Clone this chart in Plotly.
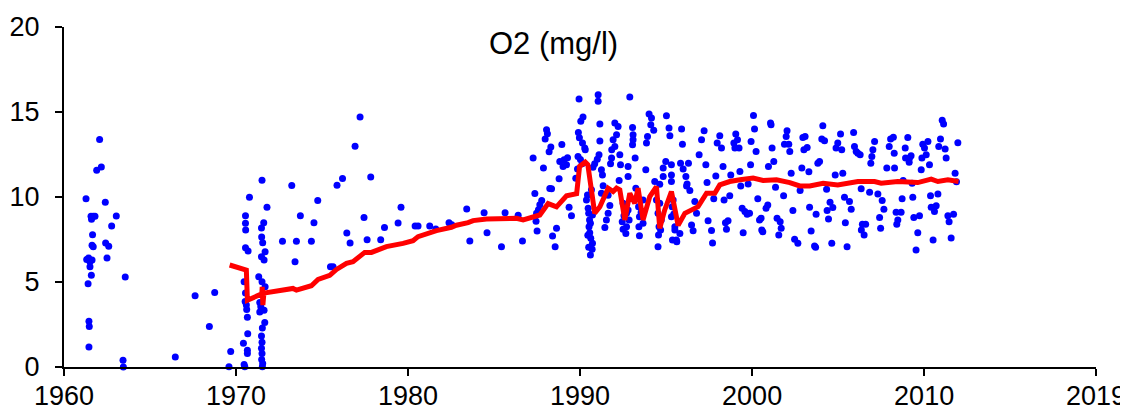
import plotly.graph_objects as go

# ---------------- data (decimal year, O2 mg/l) ----------------
yr_1960s = [1961.28, 1962.40, 1962.07, 1961.90, 1962.17, 1961.57, 1961.70, 1961.80, 1961.60, 1963.04,
            1962.77, 1961.66, 1961.63, 1961.70, 1962.42, 1962.60, 1961.32, 1961.43, 1961.63, 1961.51,
            1962.50, 1961.51, 1961.59, 1961.40, 1963.56, 1961.45, 1961.47, 1961.45, 1963.43, 1963.45,
            1966.47, 1967.62, 1968.76, 1968.45, 1969.69, 1969.59]
o2_1960s = [9.89, 9.69, 13.38, 11.58, 11.77, 8.87, 8.87, 8.87, 8.69, 8.88,
            8.30, 7.78, 7.16, 7.08, 7.29, 7.10, 6.33, 6.41, 6.29, 6.19,
            6.41, 5.90, 5.39, 4.89, 5.29, 2.69, 2.38, 1.18, 0.40, 0.00,
            0.59, 4.19, 4.38, 2.38, 0.91, 0.02]

yr_1970s = [1970.55, 1970.55, 1970.56, 1970.55, 1970.70, 1970.47, 1970.55, 1970.53, 1970.60, 1970.62,
            1970.66, 1970.68, 1970.43, 1970.66, 1970.66, 1970.47, 1970.51, 1970.78,
            1971.51, 1971.80, 1971.61, 1971.48, 1971.49, 1971.55, 1971.69, 1971.48, 1971.63, 1971.32,
            1971.51, 1971.69, 1971.38, 1971.44, 1971.38, 1971.63, 1971.67, 1971.53, 1971.48, 1971.51,
            1971.48, 1971.51, 1971.49, 1971.55, 1971.53,
            1973.24, 1973.74, 1972.70, 1973.51, 1974.38, 1973.43, 1977.21, 1976.92, 1976.19, 1975.87,
            1977.83, 1974.75, 1974.53, 1977.44, 1979.59, 1979.42, 1978.63, 1976.44, 1976.63, 1977.62,
            1978.41, 1975.49, 1975.64]
o2_1970s = [8.89, 8.45, 8.06, 7.02, 6.82, 5.01, 4.36, 3.86, 3.64, 3.38,
            2.93, 1.95, 1.40, 0.98, 0.79, 0.14, 0.02, 9.99,
            10.99, 9.40, 8.49, 8.18, 7.65, 7.31, 6.78, 6.49, 6.29, 5.31,
            5.01, 4.72, 3.80, 3.54, 3.23, 3.34, 2.62, 2.30, 1.83, 1.46,
            1.10, 0.79, 0.44, 0.20, 0.02,
            10.67, 8.89, 7.39, 7.39, 7.39, 6.19, 14.70, 12.99, 11.09, 10.69,
            11.18, 9.79, 8.49, 8.79, 9.40, 8.47, 8.20, 7.88, 7.29, 7.49,
            7.49, 5.90, 5.90]

yr_1980s = [1980.41, 1980.58, 1981.26, 1981.61, 1982.38, 1982.54, 1983.41, 1984.42, 1985.64, 1986.40,
            1984.59, 1983.59, 1985.43, 1986.65,
            1987.27, 1987.87, 1987.37, 1987.77, 1987.66, 1987.58, 1987.44, 1987.50, 1987.47, 1988.24,
            1988.20, 1988.05, 1988.10, 1987.97, 1988.30, 1988.94, 1988.82, 1989.07, 1989.27, 1989.01,
            1989.21, 1988.78, 1988.34, 1989.36, 1989.50, 1988.63, 1988.40, 1988.55, 1989.75]
o2_1980s = [8.30, 8.30, 8.30, 8.12, 8.49, 8.37, 9.30, 9.08, 9.08, 8.92,
            7.90, 7.41, 7.08, 7.41,
            12.29, 11.70, 10.20, 9.79, 9.55, 9.25, 8.57, 8.00, 9.04, 10.50,
            12.66, 13.96, 13.72, 13.41, 12.94, 13.09, 12.09, 12.19, 12.31, 11.79,
            11.89, 11.07, 10.48, 9.40, 8.90, 8.16, 7.71, 7.08, 11.11]

yr_1990_94 = [1989.94, 1990.17, 1990.04, 1989.90, 1989.96, 1990.14, 1990.27, 1990.30, 1989.88, 1990.02,
              1990.12, 1989.85,
              1990.66, 1990.43, 1990.37, 1990.47, 1990.72, 1990.60, 1990.52, 1990.56, 1990.62, 1990.72,
              1990.70, 1990.60, 1990.50, 1990.55, 1990.45, 1990.50,
              1991.05, 1991.05, 1991.15, 1991.15, 1991.10, 1991.00, 1990.85, 1990.75, 1991.24, 1991.30,
              1991.34, 1991.24, 1991.63, 1991.73, 1991.63, 1991.53, 1991.44,
              1992.02, 1992.21, 1992.12, 1991.92, 1992.02, 1991.84, 1991.83, 1991.77, 1992.31, 1992.35,
              1992.27, 1992.79, 1992.79, 1992.89,
              1992.50, 1992.55, 1992.45, 1992.70, 1992.50, 1992.66, 1992.79, 1992.85, 1992.70,
              1993.05, 1993.08, 1993.08, 1993.05, 1993.20, 1993.24,
              1993.40, 1993.45, 1993.42, 1993.45, 1993.66, 1993.66, 1993.55,
              1994.01, 1994.15, 1994.11, 1994.28, 1993.92, 1993.86, 1993.82, 1994.34,
              1994.44, 1994.53, 1994.59, 1994.56, 1994.53, 1994.63, 1994.72, 1994.68]
o2_1990_94 = [15.77, 14.70, 14.45, 13.80, 13.48, 13.17, 12.88, 12.78, 12.38, 12.20,
              11.95, 11.65,
              10.42, 10.12, 9.83, 9.34, 8.94, 8.45, 8.25, 7.90, 7.57, 7.28,
              6.92, 6.59, 9.04, 8.65, 7.75, 7.05,
              16.02, 15.63, 14.29, 13.29, 12.48, 12.22, 11.95, 11.75, 11.60, 11.30,
              10.66, 10.22, 10.10, 9.50, 9.04, 8.65, 8.20,
              14.35, 14.15, 13.66, 13.37, 12.97, 12.78, 12.29, 11.95, 12.48, 11.89,
              10.97, 11.79, 11.20, 15.88,
              9.63, 8.90, 8.55, 8.25, 8.10, 7.86, 9.24, 8.65, 9.04,
              14.09, 13.66, 13.37, 13.07, 12.29, 10.52,
              9.43, 8.84, 8.25, 7.72, 9.83, 8.45, 9.10,
              14.88, 14.65, 14.25, 13.92, 13.56, 13.17, 11.60, 10.91,
              9.83, 9.04, 8.25, 7.77, 7.08, 9.63, 8.65, 8.06]

yr_1995_99 = [1995.02, 1995.17, 1995.22, 1994.83, 1994.98, 1995.31, 1994.83, 1994.63, 1995.31, 1995.31,
              1995.90, 1995.95, 1995.84, 1996.30, 1995.99, 1996.15, 1996.22, 1996.38, 1996.19,
              1995.41, 1995.31, 1995.51, 1995.37, 1995.60, 1995.80, 1995.35, 1995.51, 1995.62, 1995.45,
              1996.92, 1997.06, 1997.21, 1997.31,
              1998.12, 1997.97, 1998.22, 1999.05, 1998.94, 1999.15, 1999.24, 1999.00, 1998.31, 1999.29,
              1998.76, 1997.38, 1997.89,
              1996.67, 1996.77, 1996.48, 1996.57, 1997.44, 1997.64, 1997.70, 1997.77, 1998.37, 1998.70,
              1999.42, 1999.58, 1999.71, 1998.45, 1998.60, 1998.51, 1999.48, 1999.34, 1999.77]
o2_1995_99 = [14.78, 14.06, 13.60, 11.70, 12.09, 11.89, 11.20, 10.75, 11.30, 10.91,
              14.00, 13.11, 11.99, 11.99, 11.64, 11.20, 10.77, 10.38, 10.65,
              9.83, 8.84, 8.06, 7.47, 7.47, 7.86, 9.43, 8.25, 7.37, 9.00,
              12.48, 13.37, 13.90, 11.89,
              13.60, 13.17, 12.88, 13.70, 13.17, 13.37, 12.88, 12.88, 11.79, 11.50,
              11.30, 10.85, 11.24,
              9.73, 9.04, 8.35, 8.02, 8.60, 8.03, 7.30, 9.89, 9.83, 10.08,
              9.34, 9.14, 8.99, 8.49, 8.61, 8.10, 7.90, 10.65, 10.77]

yr_2000s = [2000.08, 2000.14, 1999.94, 2000.23, 1999.91, 2001.07, 2001.10, 2001.16, 2001.26, 2000.95,
            2002.03, 2001.98, 2001.88, 2002.13, 2002.19, 2002.27, 2002.95, 2003.08, 2003.20, 2003.01,
            2002.89, 2003.30, 2004.11, 2004.05, 2004.21, 2003.82, 2003.92, 2004.83, 2005.27, 2005.14,
            2004.98, 2004.88, 2005.21, 2005.90, 2005.95, 2006.05, 2006.15, 2006.28, 2007.12, 2007.02,
            2006.96, 2006.90, 2008.05, 2008.21, 2007.97, 2008.26, 2007.83, 2008.28, 2009.05, 2008.90,
            2008.92, 2009.15, 2009.24, 2009.13, 2009.92, 2010.02, 2010.22, 2010.12, 2009.87, 2009.83,
            2010.31, 2011.05, 2011.13, 2010.95, 2010.85, 2011.22, 2011.28, 2011.96, 2011.80, 2011.88,
            2008.78, 2009.30]
o2_2000s = [14.80, 14.00, 13.27, 12.68, 11.89, 14.35, 14.25, 12.88, 12.09, 11.79,
            13.90, 13.56, 13.11, 13.11, 12.68, 11.40, 13.50, 13.56, 12.91, 12.78,
            11.70, 11.48, 14.19, 13.41, 13.31, 11.99, 12.09, 11.30, 11.40, 13.70,
            13.17, 12.88, 12.78, 13.80, 12.97, 12.68, 12.58, 12.48, 13.27, 12.78,
            12.38, 11.99, 13.41, 13.52, 12.97, 12.58, 11.70, 11.70, 13.50, 12.88,
            12.29, 12.29, 12.42, 12.05, 13.11, 12.88, 13.27, 12.48, 12.29, 11.60,
            11.89, 14.51, 14.29, 13.41, 12.97, 12.82, 12.29, 13.19, 11.40, 10.89,
            10.97, 10.81]

yr_2000s_low = [2000.33, 1999.85, 2000.52, 2000.43, 2000.81, 2000.91, 2000.56, 2000.62,
                2001.36, 2001.45, 2001.63, 2001.69, 2001.55, 2001.83,
                2002.37, 2002.47, 2002.66, 2002.79, 2003.34, 2003.43, 2003.72, 2003.63, 2003.69,
                2004.33, 2004.53, 2004.69, 2004.36, 2004.44, 2004.63,
                2005.37, 2005.66, 2005.76, 2005.42, 2005.52,
                2006.34, 2006.83, 2007.31, 2007.56, 2007.66, 2007.41, 2007.47,
                2006.41, 2006.60, 2006.35, 2006.51,
                2008.72, 2008.37, 2008.66, 2008.47, 2008.41,
                2009.34, 2009.40, 2009.73, 2009.63, 2009.53,
                2010.37, 2010.80, 2010.41, 2010.70, 2010.60, 2010.52,
                2011.38, 2011.71, 2011.45, 2011.57]
o2_2000s_low = [9.89, 9.04, 8.75, 8.65, 9.34, 9.53, 8.06, 7.96,
                10.58, 8.75, 8.55, 8.16, 7.77, 10.08,
                9.20, 7.51, 7.28, 10.38, 9.40, 8.00, 8.99, 7.12, 7.04,
                10.46, 9.69, 9.38, 9.20, 8.71, 7.28,
                9.99, 9.73, 9.28, 8.49, 7.08,
                10.48, 10.28, 10.18, 9.79, 9.28, 8.79, 8.16,
                8.40, 8.40, 8.06, 7.77,
                9.89, 9.10, 9.10, 8.65, 8.40,
                9.99, 8.79, 8.89, 7.90, 6.88,
                10.08, 10.18, 9.40, 9.49, 9.14, 7.47,
                8.89, 8.99, 8.55, 7.59]

# red trend line
trend_year = [1969.63, 1970.50, 1970.60, 1970.66, 1971.38, 1971.50, 1971.52, 1971.56, 1971.62, 1972.73,
              1973.31, 1973.51, 1974.38, 1974.77, 1975.45, 1975.84, 1976.42, 1976.80, 1977.48, 1977.87,
              1978.74, 1979.71, 1980.29, 1980.58, 1981.65, 1982.52, 1982.81, 1983.49, 1983.78, 1984.56,
              1985.52, 1986.30, 1986.69, 1987.27, 1987.66, 1988.14, 1988.63, 1989.21, 1989.69, 1989.80,
              1989.97, 1990.30, 1990.45, 1990.85, 1991.15, 1991.63, 1991.92, 1992.12, 1992.31, 1992.60,
              1992.89, 1993.18, 1993.37, 1993.66, 1994.05, 1994.44, 1994.63, 1994.92, 1995.31, 1995.70,
              1996.09, 1996.48, 1996.86, 1997.35, 1997.83, 1998.12, 1998.70, 1999.29, 2000.06, 2000.64,
              2001.42, 2002.19, 2002.77, 2003.35, 2004.13, 2004.98, 2006.15, 2007.12, 2007.50, 2008.47,
              2009.63, 2010.41, 2010.80, 2011.38, 2012.00]
trend_o2 = [6.00, 5.72, 5.70, 3.93, 4.23, 4.30, 4.72, 3.64, 4.35, 4.48,
            4.62, 4.52, 4.78, 5.15, 5.39, 5.74, 6.10, 6.19, 6.74, 6.74,
            7.08, 7.27, 7.43, 7.67, 8.02, 8.22, 8.34, 8.49, 8.61, 8.71,
            8.75, 8.75, 8.65, 8.84, 8.94, 9.61, 9.42, 10.07, 10.17, 10.20,
            11.80, 12.05, 11.90, 9.04, 9.43, 10.52, 10.32, 10.52, 10.42, 8.65,
            10.22, 9.63, 10.52, 8.65, 10.02, 10.61, 8.16, 9.24, 10.32, 8.33,
            9.04, 9.24, 9.43, 10.22, 10.22, 10.71, 10.91, 11.01, 11.11, 10.97,
            11.01, 10.85, 10.65, 10.65, 10.81, 10.71, 10.91, 10.91, 10.81, 10.91,
            10.85, 11.05, 10.91, 11.01, 10.91]

x_tick_values = [1960, 1970, 1980, 1990, 2000, 2010, 2019.99]
x_tick_labels = ["1960", "1970", "1980", "1990", "2000", "2010", "2019"]
y_tick_values = [0, 5, 10, 15, 20]
chart_title = "O2 (mg/l)"

obs_year = yr_1960s + yr_1970s + yr_1980s + yr_1990_94 + yr_1995_99 + yr_2000s + yr_2000s_low
obs_o2 = o2_1960s + o2_1970s + o2_1980s + o2_1990_94 + o2_1995_99 + o2_2000s + o2_2000s_low
for a, b in [(yr_1960s, o2_1960s), (yr_1970s, o2_1970s), (yr_1980s, o2_1980s),
             (yr_1990_94, o2_1990_94), (yr_1995_99, o2_1995_99), (yr_2000s, o2_2000s),
             (yr_2000s_low, o2_2000s_low), (trend_year, trend_o2)]:
    assert len(a) == len(b), (len(a), len(b))

FONT = "Liberation Sans, Arial, sans-serif"
TICK_SIZE = 27

# the page body has an 8px default margin, so the figure is 8px smaller and
# its left/top margins are 8px smaller to keep the plot area where it belongs
fig = go.Figure()
fig.add_trace(go.Scatter(
    x=obs_year, y=obs_o2, mode="markers",
    marker=dict(color="#0000FF", size=7, line=dict(width=0)),
    cliponaxis=False, showlegend=False, hoverinfo="x+y"))
fig.add_trace(go.Scatter(
    x=trend_year, y=trend_o2, mode="lines",
    line=dict(color="#FF0000", width=5),
    cliponaxis=False, showlegend=False))

fig.update_layout(
    width=1120, height=402,
    margin=dict(l=56, r=32, t=19, b=43, pad=0, autoexpand=False),
    paper_bgcolor="white", plot_bgcolor="white",
    font=dict(family=FONT, color="black", size=TICK_SIZE),
    showlegend=False,
    annotations=[dict(text=chart_title, xref="paper", yref="paper",
                      x=0.4743, y=0.952, xanchor="center", yanchor="middle",
                      showarrow=False, font=dict(family=FONT, size=31, color="black"))],
)
fig.update_xaxes(
    range=[1960, 2019.99], tickmode="array", tickvals=x_tick_values, ticktext=x_tick_labels,
    showgrid=False, zeroline=False, showline=True, linecolor="black", linewidth=2,
    ticks="outside", ticklen=7, tickwidth=2, tickcolor="black", automargin=False,
    tickfont=dict(family=FONT, size=TICK_SIZE, color="black"), ticklabelstandoff=-3)
fig.update_yaxes(
    range=[0, 20], tickmode="array", tickvals=y_tick_values,
    showgrid=False, zeroline=False, showline=True, linecolor="black", linewidth=2,
    ticks="outside", ticklen=7, tickwidth=2, tickcolor="black", automargin=False,
    tickfont=dict(family=FONT, size=TICK_SIZE, color="black"), ticklabelstandoff=10)

fig.write_html("out.html")
